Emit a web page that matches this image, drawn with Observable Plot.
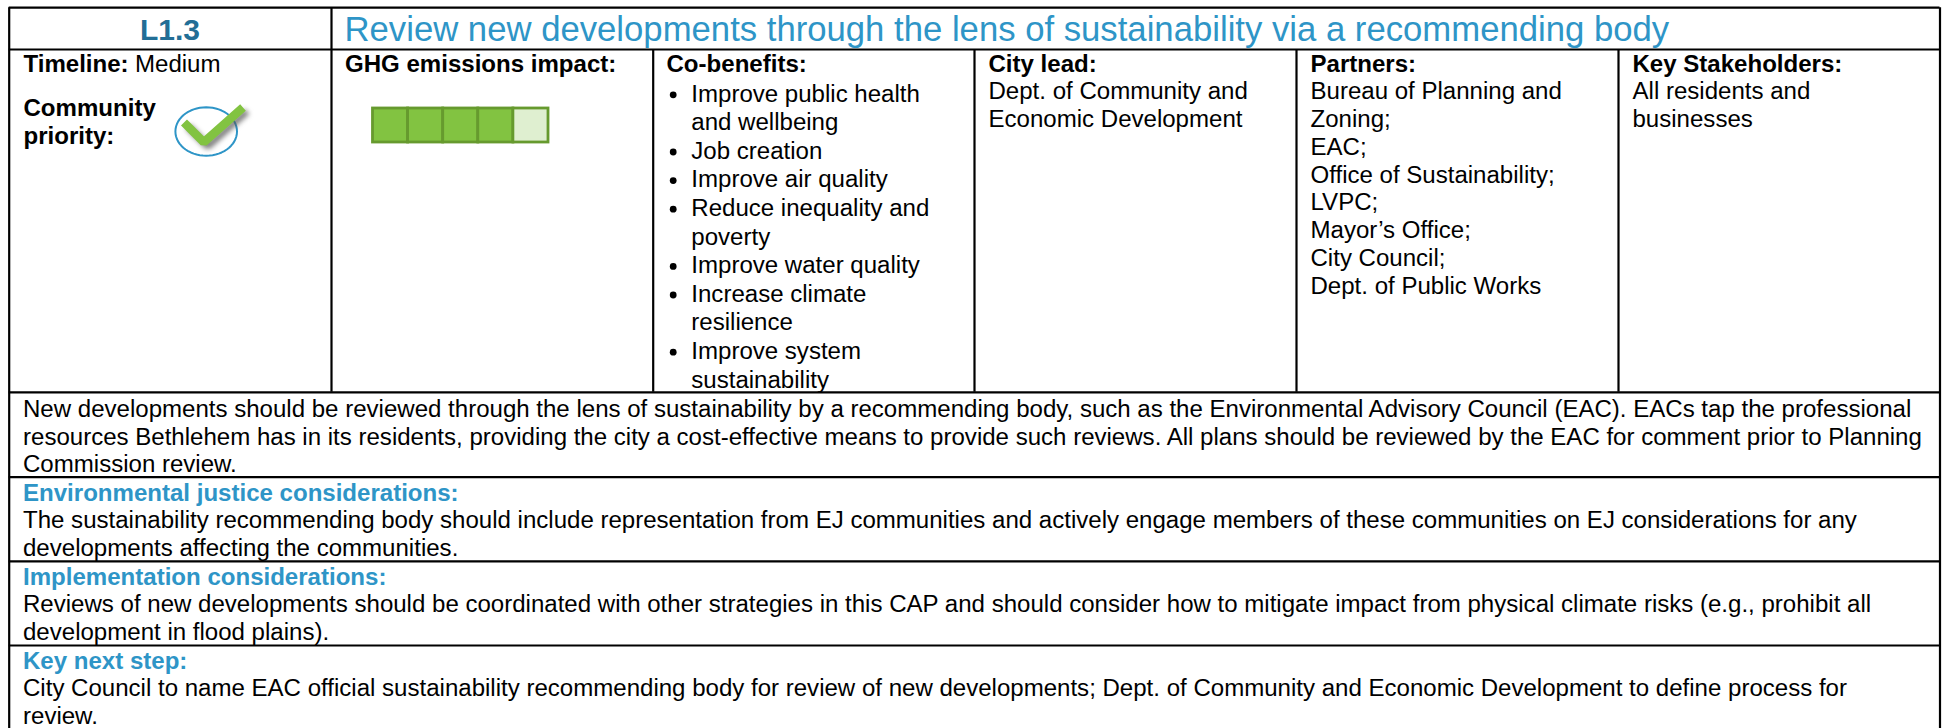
<!DOCTYPE html>
<html><head><meta charset="utf-8">
<script src="https://cdn.jsdelivr.net/npm/d3@7"></script>
<script src="https://cdn.jsdelivr.net/npm/@observablehq/plot@0.6"></script>
<style>
html,body{margin:0;padding:0;background:#fff;overflow:hidden}
svg{display:block}
</style></head><body>
<div id="chart"></div>
<script>
// ---- content ----
const actionId = "L1.3";
const actionTitle = "Review new developments through the lens of sustainability via a recommending body";
const timelineLabel = "Timeline:";
const timelineValue = "Medium";
const priorityLabel = ["Community", "priority:"];
const ghgLabel = "GHG emissions impact:";
const ghgScore = 4;
const ghgCells = [1, 2, 3, 4, 5];
const coBenefitsLabel = "Co-benefits:";
const coBenefits = [
  ["Improve public health", "and wellbeing"],
  ["Job creation"],
  ["Improve air quality"],
  ["Reduce inequality and", "poverty"],
  ["Improve water quality"],
  ["Increase climate", "resilience"],
  ["Improve system", "sustainability"]
];
const cityLeadLabel = "City lead:";
const cityLead = ["Dept. of Community and", "Economic Development"];
const partnersLabel = "Partners:";
const partners = ["Bureau of Planning and", "Zoning;", "EAC;", "Office of Sustainability;", "LVPC;", "Mayor\u2019s Office;", "City Council;", "Dept. of Public Works"];
const stakeholdersLabel = "Key Stakeholders:";
const stakeholders = ["All residents and", "businesses"];
const summary = [
  "New developments should be reviewed through the lens of sustainability by a recommending body, such as the Environmental Advisory Council (EAC). EACs tap the professional",
  "resources Bethlehem has in its residents, providing the city a cost-effective means to provide such reviews. All plans should be reviewed by the EAC for comment prior to Planning",
  "Commission review."
];
const sections = [
  {head: "Environmental justice considerations:", body: [
    "The sustainability recommending body should include representation from EJ communities and actively engage members of these communities on EJ considerations for any",
    "developments affecting the communities."]},
  {head: "Implementation considerations:", body: [
    "Reviews of new developments should be coordinated with other strategies in this CAP and should consider how to mitigate impact from physical climate risks (e.g., prohibit all",
    "development in flood plains)."]},
  {head: "Key next step:", body: [
    "City Council to name EAC official sustainability recommending body for review of new developments; Dept. of Community and Economic Development to define process for",
    "review."]}
];

// ---- layout (scale units = table units) ----
const W = 1946, H = 728;
const colEdges = [331, 652.7, 974, 1296, 1618];
const rowEdges = [7.2, 49, 391.8, 476.7, 560.8, 645];
const left = 8.7, right = 1939.5;
const colText = [23, 344.5, 666, 988, 1310, 1632];
const bulletX = 672.7, bulletTextX = 690.8;
const fs = 24.05, lh = 27.85, bodyLh = 27.6;
const black = "#000", blue = "#2E95C7", navy = "#226E96";

const lines = [];
const put = (text, x, y, bold = false, fill = black, size = fs, centered = false) =>
  lines.push({text, x, y, bold, fill, size, centered});

put(actionId, 169.5, 39.3, true, navy, 30, true);
put(actionTitle, 344, 40, false, blue, 34.7);
put(timelineLabel, colText[0], 71.7, true);
put(timelineValue, 134.5, 71.7);
priorityLabel.forEach((t, i) => put(t, colText[0], 115 + i * 28, true));
put(ghgLabel, colText[1], 71.7, true);
put(coBenefitsLabel, colText[2], 71.7, true);
const bullets = [];
let row = 0;
coBenefits.forEach(item => {
  bullets.push({x: bulletX, y: 94.3 + row * 28.6});
  item.forEach(t => { put(t, bulletTextX, 101 + row * 28.6); row++; });
});
put(cityLeadLabel, colText[3], 71.7, true);
cityLead.forEach((t, i) => put(t, colText[3], 98.5 + i * lh));
put(partnersLabel, colText[4], 71.7, true);
partners.forEach((t, i) => put(t, colText[4], 98.5 + i * lh));
put(stakeholdersLabel, colText[5], 71.7, true);
stakeholders.forEach((t, i) => put(t, colText[5], 98.5 + i * lh));
summary.forEach((t, i) => put(t, 22.5, 416.5 + i * bodyLh));
sections.forEach((s, k) => {
  const top = [500, 584, 668][k];
  put(s.head, 22.5, top, true, blue);
  s.body.forEach((t, i) => put(t, 22.5, top + 27.7 + i * bodyLh));
});

const ghgX0 = 372.5, ghgCell = 35.1, ghgTop = 108, ghgBottom = 142;
const ghgData = ghgCells.map(i => ({
  x1: ghgX0 + (i - 1) * ghgCell, x2: ghgX0 + i * ghgCell,
  filled: i <= ghgScore
}));
const checkPath = [{x: 183.5, y: 122}, {x: 203.3, y: 141.7}, {x: 242.5, y: 107}];
const ring = d3.range(0, 361, 6).map(a => ({
  x: 205.7 + 30.8 * Math.cos(a * Math.PI / 180),
  y: 131 + 24.2 * Math.sin(a * Math.PI / 180)
}));

const hRules = rowEdges.map(y => ({y, x1: left, x2: right}));
const vRules = [
  {x: left, y1: rowEdges[0], y2: H},
  {x: right, y1: rowEdges[0], y2: H},
  {x: colEdges[0], y1: rowEdges[0], y2: rowEdges[2]},
  ...colEdges.slice(1).map(x => ({x, y1: rowEdges[1], y2: rowEdges[2]}))
];

const textMark = (sel, weight, anchor) => Plot.text(lines.filter(sel), {
  x: "x", y: "y", text: "text", fill: "fill", fontSize: "size",
  fontWeight: weight, textAnchor: anchor, lineAnchor: "bottom"
});
const blur = (index, scales, values, dims, ctx, next) => {
  const g = next(index, scales, values, dims, ctx);
  g.style.filter = "blur(2.5px)";
  return g;
};

const chart = Plot.plot({
  width: W, height: H, margin: 0,
  x: {domain: [0, W], range: [0, W], axis: null},
  y: {domain: [0, H], range: [0, H], axis: null},
  style: {fontFamily: "'Liberation Sans', Arial, sans-serif", background: "#fff"},
  marks: [
    Plot.rect(ghgData, {x1: "x1", x2: "x2", y1: ghgTop, y2: ghgBottom,
      fill: d => d.filled ? "#82C341" : "#DFEFD0", stroke: "#669A2E", strokeWidth: 2.8}),
    Plot.line(ring, {x: "x", y: "y", stroke: blue, strokeWidth: 2}),
    Plot.line(checkPath.map(p => ({x: p.x + 4, y: p.y + 4})), {x: "x", y: "y", stroke: "#555", strokeWidth: 7,
      strokeOpacity: 0.75, strokeLinejoin: "miter", strokeLinecap: "butt", render: blur}),
    Plot.line(checkPath, {x: "x", y: "y", stroke: "#82C341", strokeWidth: 8.5,
      strokeLinejoin: "miter", strokeLinecap: "butt"}),
    Plot.dot(bullets, {x: "x", y: "y", r: 3.4, fill: black}),
    textMark(d => !d.bold, "normal", "start"),
    textMark(d => d.bold && !d.centered, "bold", "start"),
    textMark(d => d.bold && d.centered, "bold", "middle"),
    Plot.ruleY(hRules, {y: "y", x1: "x1", x2: "x2", stroke: black, strokeWidth: 2.2}),
    Plot.ruleX(vRules, {x: "x", y1: "y1", y2: "y2", stroke: black, strokeWidth: 2.2})
  ]
});
document.getElementById("chart").append(chart);
</script>
</body></html>
